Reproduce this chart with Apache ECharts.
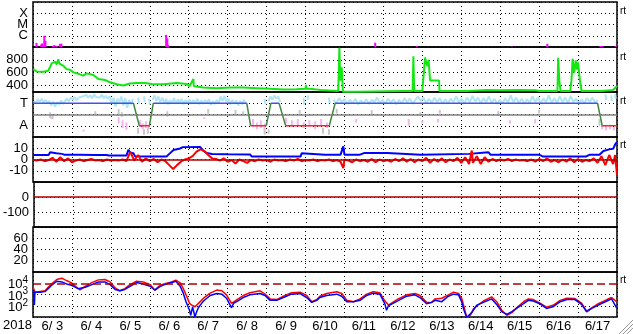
<!DOCTYPE html>
<html><head><meta charset="utf-8">
<script src="https://cdn.jsdelivr.net/npm/echarts@6/dist/echarts.min.js"></script>
<style>html,body{margin:0;padding:0;background:#fff;overflow:hidden}#c{width:633px;height:334px}</style>
</head><body><div id="c"></div>
<script>
// ---------- data ----------
const dayLabels = ['6/ 3','6/ 4','6/ 5','6/ 6','6/ 7','6/ 8','6/ 9','6/10','6/11','6/12','6/13','6/14','6/15','6/16','6/17'];
const yearLabel = '2018';
// X-ray flux (W/m^2) [day, flux]
const xrayFlux = [[0.09,2.3e-7],[0.21,1.7e-7],[0.24,2.1e-7],[0.29,1.0e-6],[0.32,3.4e-7],[0.51,1.3e-7],[0.55,1.5e-7],[0.61,1.2e-7],[0.69,1.9e-7],[0.73,2.0e-7],[3.42,1.2e-6],[3.45,5.9e-7],[3.47,1.5e-7],[8.79,2.4e-7],[9.86,1.2e-7],[12.30,1.1e-7],[13.21,1.9e-7],[14.57,1.2e-7],[14.60,1.2e-7],[14.63,1.2e-7],[14.97,1.2e-7]];
const xrayLevels = {1:'C',2:'M',3:'X'};
// solar wind speed [day, km/s]
const speed = [[0.01,656],[0.09,620],[0.27,615],[0.39,630],[0.44,690],[0.48,749],[0.52,720],[0.57,769],[0.61,730],[0.65,810],[0.68,740],[0.71,759],[0.78,708],[0.86,656],[0.95,646],[1.04,605],[1.16,585],[1.29,554],[1.38,590],[1.42,605],[1.55,564],[1.68,502],[1.85,487],[1.98,451],[2.15,420],[2.32,400],[2.49,431],[2.66,441],[2.88,441],[3.05,426],[3.35,420],[3.69,441],[3.95,426],[4.02,390],[4.12,502],[4.13,390],[4.38,369],[4.72,359],[5.06,369],[5.40,369],[5.75,359],[6.09,349],[6.43,338],[6.77,343],[7.00,349],[7.01,410],[7.02,349],[7.12,349],[7.37,333],[7.61,323],[7.84,316],[7.87,987],[7.89,477],[7.93,685],[7.96,305],[8.30,305],[8.35,316],[9.50,316],[9.75,316],[9.77,856],[9.79,316],[10.00,316],[10.07,836],[10.10,760],[10.13,700],[10.16,800],[10.20,477],[10.43,477],[10.44,316],[11.15,316],[11.20,332],[11.66,332],[11.70,322],[12.00,326],[12.50,332],[12.90,328],[13.00,316],[13.47,316],[13.49,831],[13.52,467],[13.55,316],[13.80,316],[13.83,480],[13.86,815],[13.90,600],[13.94,790],[13.97,650],[14.00,760],[14.05,467],[14.09,316],[14.60,316],[14.64,332],[14.90,332],[14.95,363],[15.00,394]];
const speedTicks = [400,600,800];
// T/A panel: level 3 = T, level 1 = A
const taLevels = {1:'A',3:'T'};
const taCyanSegs = [
 [[0.02,3.2],[0.07,3.0],[0.12,3.35],[0.17,3.1],[0.22,3.4],[0.27,3.05],[0.32,3.3],[0.37,3.0],[0.42,3.2],[0.47,2.8],[0.52,3.15],[0.57,2.7],[0.62,3.1],[0.67,2.9],[0.72,3.25],[0.77,2.95],[0.82,3.2],[0.87,3.4],[0.92,3.2],[0.97,3.5],[1.02,3.3],[1.07,3.55],[1.12,3.25],[1.17,3.5],[1.22,3.35],[1.27,3.6],[1.32,3.45],[1.37,3.75],[1.42,3.5],[1.47,3.7],[1.52,3.45],[1.57,3.8],[1.62,3.55],[1.67,3.7],[1.72,3.5],[1.77,3.75],[1.82,3.45],[1.87,3.65],[1.92,3.4],[1.97,3.6],[2.02,3.0],[2.07,3.5],[2.12,2.7],[2.17,3.4],[2.22,3.1],[2.27,3.6],[2.32,2.8],[2.37,3.45],[2.42,2.6],[2.47,3.3],[2.52,2.9],[2.57,3.4]],
 [[2.70,3.5],[2.72,3.0]],[[2.85,3.6],[2.87,3.1]],[[2.98,3.4],[3.00,2.9]],
 [[3.07,3.3],[3.12,3.7],[3.17,3.2],[3.22,3.6],[3.27,3.1],[3.32,3.5],[3.37,3.0],[3.42,3.4],[3.47,2.9],[3.52,3.3],[3.57,3.0],[3.62,3.45],[3.67,2.95],[3.72,3.35],[3.77,3.05],[3.82,3.4],[3.87,2.9],[3.92,3.3],[3.97,3.0],[4.02,3.35],[4.07,2.95],[4.12,3.3],[4.17,3.0],[4.22,3.4],[4.27,2.9],[4.32,3.25],[4.37,2.95],[4.42,3.3],[4.47,3.0],[4.52,3.35],[4.57,2.85],[4.62,3.2],[4.67,2.95],[4.72,3.3],[4.77,3.0],[4.82,3.6],[4.87,3.2],[4.92,3.65],[4.97,3.1],[5.02,3.4],[5.07,2.9],[5.12,3.3],[5.17,2.95],[5.22,3.25],[5.27,2.8],[5.32,3.2],[5.37,2.9],[5.42,3.3],[5.47,3.0]],
 [[5.95,3.4],[5.97,2.9]],
 [[6.05,3.2],[6.10,3.6],[6.15,3.3],[6.20,3.7],[6.25,3.4],[6.30,3.6],[6.35,3.1]],
 [[6.95,3.5],[6.97,2.9]],[[7.05,3.3],[7.07,3.7]],[[7.60,3.5],[7.62,3.0]],
 [[7.72,3.3],[7.79,3.0],[7.86,3.45],[7.93,3.1],[8.00,3.35],[8.07,2.95],[8.14,3.3],[8.21,3.0],[8.28,3.4],[8.35,2.9],[8.42,3.25],[8.49,3.0],[8.56,3.35],[8.63,2.95],[8.70,3.3],[8.77,3.1],[8.84,3.5],[8.91,3.0],[8.98,3.3],[9.05,2.95],[9.12,3.4],[9.19,3.05],[9.26,3.35],[9.33,2.9],[9.40,3.3],[9.47,3.0],[9.54,3.45],[9.61,3.1],[9.68,3.4],[9.75,2.95],[9.82,3.3],[9.89,3.6],[9.96,3.2],[10.03,3.5],[10.10,3.0],[10.17,3.4],[10.24,3.05],[10.31,3.5],[10.38,3.1],[10.45,3.45],[10.52,2.95],[10.59,3.35],[10.66,3.0],[10.73,3.4],[10.80,3.1],[10.87,3.6],[10.94,3.05],[11.01,3.4],[11.08,3.0],[11.15,3.5],[11.22,3.1],[11.29,3.65],[11.36,3.15],[11.43,3.5],[11.50,3.0],[11.57,3.45],[11.64,3.1],[11.71,3.6],[11.78,3.0],[11.85,3.4],[11.92,2.95],[11.99,3.3],[12.06,3.0],[12.13,3.45],[12.20,3.05],[12.27,3.7],[12.34,3.1],[12.41,3.5],[12.48,3.0],[12.55,3.4],[12.62,2.95],[12.69,3.35],[12.76,3.05],[12.83,3.6],[12.90,3.1],[12.97,3.5],[13.04,3.0],[13.11,3.4],[13.18,3.1],[13.25,3.7],[13.32,3.0],[13.39,3.45],[13.46,3.05],[13.53,3.6],[13.60,3.1],[13.67,3.5],[13.74,3.0],[13.81,3.65],[13.88,3.1],[13.95,3.4],[14.02,2.95],[14.09,3.35],[14.16,3.0],[14.23,3.45],[14.30,3.1],[14.37,3.5],[14.44,3.0],[14.50,3.3]],
 [[14.70,3.8],[14.72,3.3]],[[14.85,3.7],[14.87,3.2]],[[14.95,3.8],[14.97,3.4]]
];
// vertical strokes [day, top, bottom]
const taPinkStrokes = [[0.47,1.75,1.6],[1.30,0.65,0.5],[2.20,1.75,1.2],[2.30,1.5,0.8],[2.40,1.3,0.65],[2.75,1.5,0.9],[2.82,1.2,0.7],[2.90,1.4,0.8],[2.97,1.0,0.7],[4.40,1.75,1.6],[5.65,1.6,0.9],[5.75,1.3,0.7],[5.85,1.5,0.8],[5.95,1.2,0.6],[6.50,1.7,1.2],[6.65,1.5,0.9],[6.80,1.6,1.0],[6.95,1.3,0.8],[7.10,1.5,0.9],[7.25,1.4,0.7],[7.40,1.6,1.0],[7.55,1.3,0.8],[8.30,1.6,1.3],[9.65,1.6,1.0],[10.00,1.5,1.2],[10.40,1.6,1.3],[12.25,1.5,1.2],[12.90,1.6,1.2],[14.62,1.1,0.7],[14.72,1.0,0.6],[14.82,1.1,0.7],[14.92,0.9,0.6]];
const taGreyStrokes = [[0.44,2.2,1.7],[0.50,2.0,1.6],[1.60,2.3,2.0],[2.20,2.5,2.0],[2.28,2.2,1.8],[2.70,0.8,0.3],[2.85,0.7,0.2],[2.95,0.8,0.3],[3.45,2.3,1.8],[4.50,2.5,2.1],[5.20,2.4,2.0],[5.40,2.3,2.0],[5.95,0.8,0.2],[6.05,0.7,0.3],[6.85,2.4,2.0],[7.45,0.8,0.3],[7.60,0.7,0.2],[7.80,2.5,2.1],[8.70,2.4,2.0],[9.95,2.2,1.9],[10.45,2.4,2.1],[11.95,2.3,1.9],[13.00,2.4,2.1],[14.55,1.6,1.0]];
const taStatus = [[0,3],[2.58,3],[2.73,1],[2.99,1],[3.09,3],[5.49,3],[5.59,1],[5.99,1],[6.11,3],[6.32,3],[6.49,1],[7.61,1],[7.76,3],[14.50,3],[14.62,1],[15,1]];
const taMidLevel = 2;
// IMF Bt (blue) and Bz (red), nT
const bt = [[0.00,4],[0.40,4],[0.44,6.4],[0.60,5.5],[0.74,5],[0.80,4.3],[1.20,4.2],[1.60,4.0],[1.89,4],[1.95,3.5],[2.40,3.5],[2.45,8.7],[2.50,6],[2.58,5.5],[2.62,2.8],[3.00,2.6],[3.43,2.6],[3.50,5],[3.61,8.5],[3.78,9.8],[3.85,11],[4.29,11.1],[4.33,10.3],[4.37,8],[4.46,5.7],[4.60,4.8],[5.00,4.6],[5.58,4.4],[5.62,2.6],[6.50,2.6],[6.87,2.6],[6.90,5.5],[6.95,4.3],[7.50,4.3],[7.90,4.3],[7.97,11.7],[8.00,4.3],[8.40,4.3],[8.50,5.7],[9.10,5.7],[9.15,4.3],[9.96,4.3],[10.00,5],[11.20,5],[11.25,6.4],[11.70,6.4],[11.75,4.3],[13.00,4.3],[13.10,2.6],[14.20,2.6],[14.30,4.3],[14.55,4.3],[14.65,7.6],[14.80,9],[14.90,9.5],[14.97,14.6],[15.00,15]];
const bz = [[0.0,-0.5],[0.1,-1],[0.2,0],[0.3,-1.5],[0.4,-0.5],[0.5,1.5],[0.6,-2],[0.7,2],[0.8,-1.5],[0.9,1],[1.0,-2.5],[1.1,-1],[1.2,0],[1.3,-1.5],[1.4,-0.5],[1.5,0.5],[1.6,-1],[1.7,-0.5],[1.8,-1.5],[1.9,0],[2.0,-1],[2.1,-0.5],[2.2,-1],[2.3,0],[2.4,-1.5],[2.5,7],[2.6,-1],[2.7,4],[2.8,-2],[2.9,1],[3.0,-1.5],[3.1,0.5],[3.2,-2.5],[3.3,0],[3.4,-1.5],[3.5,-5],[3.6,-8.5],[3.7,-5],[3.8,-2],[3.9,0],[4.0,1],[4.1,3],[4.2,7],[4.3,9],[4.4,7.5],[4.5,4],[4.6,1],[4.7,0.5],[4.8,-1],[4.9,1],[5.0,-2],[5.1,-0.5],[5.2,-3.5],[5.3,0],[5.4,-1.5],[5.5,-3],[5.6,-0.5],[5.7,-1.5],[5.8,0],[5.9,-1],[6.0,-0.5],[6.1,-2],[6.2,0],[6.3,-1],[6.4,-0.5],[6.5,-1.5],[6.6,0],[6.7,-1],[6.8,0.5],[6.9,-1.5],[7.0,-0.5],[7.1,-1],[7.2,0],[7.3,-1.5],[7.4,-0.5],[7.5,-1],[7.6,0],[7.7,-1.5],[7.8,-0.5],[7.9,-2],[7.97,-7.6],[8.0,0],[8.1,-1],[8.2,-2.5],[8.3,0],[8.4,-1.5],[8.5,-0.5],[8.6,-2],[8.7,0.5],[8.8,-2.5],[8.9,0],[9.0,-1.5],[9.1,-0.5],[9.2,-2],[9.3,0.5],[9.4,-1.5],[9.5,1],[9.6,-2],[9.7,0.5],[9.8,-2.5],[9.9,0],[10.0,-1.5],[10.1,1.5],[10.2,-3],[10.3,0.5],[10.4,-2],[10.5,1],[10.6,-2.5],[10.7,0],[10.8,-1.5],[10.9,1.5],[11.0,-3],[11.1,2],[11.2,-4],[11.27,8],[11.3,-3],[11.4,3],[11.5,-4],[11.6,2],[11.7,-2],[11.8,0.5],[11.9,-1.5],[12.0,0],[12.1,-1],[12.2,0.5],[12.3,-1.5],[12.4,0],[12.5,-1],[12.6,-0.5],[12.7,-1.5],[12.8,0],[12.9,-2],[13.0,0.5],[13.1,-1.5],[13.2,1],[13.3,-2],[13.4,-0.5],[13.5,-2.5],[13.6,0],[13.7,-2],[13.8,1],[13.9,-2.5],[14.0,0.5],[14.1,-2],[14.2,-0.5],[14.3,-1.5],[14.4,1],[14.5,-3],[14.6,3],[14.7,-5],[14.8,4],[14.9,-4],[14.95,4],[15.0,-13.5]];
const bzTicks = [-10,0,10];
const dstTicks = [0,-100];
const panel6Ticks = [20,40,60];
// electron flux, log10 values [day, exponent]
const fluxRedExp = [[0.01,3.58],[0.05,3.2],[0.18,3.27],[0.31,3.33],[0.39,3.64],[0.48,3.94],[0.61,4.33],[0.74,4.45],[0.86,4.24],[0.99,4.03],[1.12,3.64],[1.21,3.42],[1.34,3.73],[1.51,4.06],[1.68,4.30],[1.85,4.33],[1.98,4.12],[2.11,3.58],[2.23,3.33],[2.36,3.52],[2.49,3.88],[2.66,4.18],[2.83,4.12],[3.01,3.88],[3.13,3.39],[3.26,3.82],[3.43,4.0],[3.56,4.12],[3.67,4.27],[3.78,4.03],[3.86,3.52],[3.95,2.82],[4.02,2.21],[4.08,2.06],[4.16,1.91],[4.25,2.21],[4.38,2.67],[4.55,3.12],[4.72,3.39],[4.85,3.33],[4.97,2.97],[5.10,2.21],[5.23,2.52],[5.40,2.91],[5.57,3.15],[5.83,3.33],[5.96,3.03],[6.09,2.61],[6.26,2.55],[6.43,2.85],[6.64,3.15],[6.86,3.21],[7.03,2.91],[7.16,2.36],[7.29,2.55],[7.37,2.85],[7.54,3.09],[7.80,3.24],[7.93,3.09],[8.06,2.48],[8.23,2.36],[8.40,2.61],[8.57,3.03],[8.74,3.24],[8.91,3.15],[9.04,2.42],[9.13,2.06],[9.21,2.24],[9.38,2.61],[9.60,2.97],[9.81,3.09],[9.94,2.91],[10.11,2.30],[10.24,2.30],[10.33,2.61],[10.50,2.67],[10.67,2.97],[10.80,3.21],[10.93,3.09],[11.01,2.67],[11.07,1.91],[11.14,0.97],[11.23,1.15],[11.31,1.70],[11.40,2.0],[11.57,2.42],[11.78,2.79],[11.91,2.36],[12.04,1.6],[12.17,1.15],[12.30,1.39],[12.42,1.82],[12.60,2.36],[12.72,2.61],[12.85,2.55],[13.02,2.24],[13.19,1.88],[13.37,2.06],[13.54,2.48],[13.71,2.67],[13.92,2.64],[14.09,2.24],[14.22,1.52],[14.35,1.82],[14.52,2.18],[14.74,2.55],[14.86,2.73],[14.99,2.36]];
const fluxBlueExp = [[0.01,3.42],[0.035,2.06],[0.05,3.21],[0.18,3.21],[0.31,3.27],[0.39,3.52],[0.48,3.82],[0.61,4.18],[0.74,4.12],[0.86,3.94],[0.99,3.82],[1.16,3.52],[1.34,3.64],[1.51,3.88],[1.68,4.12],[1.85,4.12],[1.98,3.88],[2.11,3.45],[2.23,3.33],[2.36,3.45],[2.49,3.73],[2.66,4.06],[2.83,3.94],[3.01,3.73],[3.13,3.39],[3.26,3.70],[3.43,3.94],[3.56,4.06],[3.67,4.18],[3.78,3.73],[3.86,3.12],[3.93,2.36],[4.02,1.6],[4.05,1.15],[4.10,1.9],[4.16,1.0],[4.20,1.45],[4.25,1.85],[4.33,2.21],[4.38,2.42],[4.55,2.91],[4.72,3.09],[4.85,3.03],[4.97,2.67],[5.10,1.82],[5.15,2.21],[5.23,2.36],[5.40,2.73],[5.57,2.97],[5.83,3.09],[5.96,2.91],[6.09,2.48],[6.26,2.48],[6.43,2.73],[6.64,3.03],[6.86,3.09],[7.03,2.73],[7.16,2.30],[7.29,2.48],[7.37,2.73],[7.54,2.91],[7.80,3.03],[7.93,2.85],[8.06,2.36],[8.23,2.36],[8.40,2.48],[8.57,2.91],[8.74,3.12],[8.91,3.03],[9.04,2.15],[9.08,1.6],[9.13,2.0],[9.21,2.15],[9.38,2.45],[9.60,2.85],[9.81,2.97],[9.94,2.73],[10.11,2.18],[10.24,2.30],[10.33,2.48],[10.50,2.36],[10.67,2.85],[10.80,3.03],[10.93,2.97],[11.01,2.36],[11.07,1.6],[11.14,0.97],[11.27,1.39],[11.31,1.6],[11.40,2.06],[11.57,2.30],[11.78,2.61],[11.91,2.12],[12.04,1.48],[12.17,1.24],[12.30,1.48],[12.42,1.76],[12.60,2.18],[12.72,2.48],[12.85,2.42],[13.02,2.18],[13.19,1.76],[13.37,1.94],[13.54,2.36],[13.71,2.55],[13.92,2.55],[14.09,2.12],[14.22,1.45],[14.35,1.76],[14.52,2.06],[14.74,2.42],[14.86,2.61],[14.99,1.82]];
const fluxTicks = [2,3,4];
const fluxThresholdExp = 4;
const rtLabel = 'rt';

// ---------- layout ----------
const L = 33, R = 16, TOP = 2, H = 45, N = 7;
const FONT = "'Liberation Sans Narrow','Liberation Sans',Arial,sans-serif";
const DOT = [1,3];
const grids = [], xAxes = [], yAxes = [], series = [];
for (let i = 0; i < N; i++) {
  grids.push({left: L, right: R, top: TOP + H * i, height: H, show: true, borderColor: '#000', borderWidth: 1.5, backgroundColor: 'transparent'});
  xAxes.push({type: 'value', gridIndex: i, min: 0, max: 15, interval: 1,
    axisLine: {show: false}, axisTick: {show: false}, axisLabel: {show: false},
    splitLine: {show: true, lineStyle: {color: '#000', type: DOT, width: 1}}});
}
// category axis for the day labels (centred in each day)
xAxes.push({type: 'category', gridIndex: 6, data: dayLabels, boundaryGap: true, position: 'bottom',
  axisLine: {show: false}, axisTick: {show: false}, splitLine: {show: false},
  axisLabel: {interval: 0, color: '#000', fontFamily: FONT, fontSize: 13, margin: 3}});

function yAx(i, min, max, interval, fmt, lineColors) {
  return {type: 'value', gridIndex: i, min: min, max: max, interval: interval,
    axisLine: {show: false}, axisTick: {show: false},
    axisLabel: {color: '#000', fontFamily: FONT, fontSize: 13, margin: 5, formatter: fmt, showMinLabel: true, showMaxLabel: true},
    splitLine: {show: true, lineStyle: {color: lineColors || '#000', type: DOT, width: 1}}};
}
const T = 'rgba(0,0,0,0)';
yAxes.push(yAx(0, 0, 4, 1, v => xrayLevels[v] || ''));
yAxes.push(yAx(1, 300, 1000, 100, v => speedTicks.includes(v) ? String(v) : '', [T, '#000']));
yAxes.push(yAx(2, 0, 4, 1, v => taLevels[v] || ''));
yAxes.push(yAx(3, -20, 20, 10, v => bzTicks.includes(v) ? String(v) : ''));
yAxes.push(yAx(4, -200, 100, 100, v => dstTicks.includes(v) ? String(v) : ''));
yAxes.push(yAx(5, 0, 80, 20, v => panel6Ticks.includes(v) ? String(v) : ''));
const fy = yAx(6, 1, 5, 1, v => fluxTicks.includes(v) ? '{b|10}{s|' + v + '}' : '', ['#000', '#000', '#000', T, '#000']);
fy.axisLabel.rich = {b: {fontFamily: FONT, fontSize: 13, lineHeight: 16, verticalAlign: 'bottom'}, s: {fontFamily: FONT, fontSize: 10, lineHeight: 16, verticalAlign: 'top', padding: [0, 0, 6, 0]}};
yAxes.push(fy);

const common = {type: 'line', symbol: 'none', showSymbol: false, animation: false, silent: true, connectNulls: false};
function strokes(list) { const out = []; list.forEach(s => { out.push([s[0], s[1]], [s[0], s[2]], [s[0], '-']); }); return out; }
function joinSegs(segs) { const out = []; segs.forEach(s => { s.forEach(p => out.push(p)); out.push([s[s.length - 1][0], '-']); }); return out; }

// panel 0: X-ray bars
series.push({type: 'bar', xAxisIndex: 0, yAxisIndex: 0, barWidth: 2, silent: true, animation: false,
  itemStyle: {color: '#ff00ff'}, data: xrayFlux.map(p => [p[0], Math.log10(p[1]) + 7])});
// panel 1: speed
series.push(Object.assign({}, common, {xAxisIndex: 1, yAxisIndex: 1, data: speed, lineStyle: {color: '#14e614', width: 2}}));
// panel 2: T/A
series.push(Object.assign({}, common, {xAxisIndex: 2, yAxisIndex: 2, data: strokes(taGreyStrokes), lineStyle: {color: '#c8c8c8', width: 2}}));
series.push(Object.assign({}, common, {xAxisIndex: 2, yAxisIndex: 2, data: strokes(taPinkStrokes), lineStyle: {color: '#f5b4f0', width: 2}}));
series.push(Object.assign({}, common, {xAxisIndex: 2, yAxisIndex: 2, data: joinSegs(taCyanSegs), lineStyle: {color: '#aee6f6', width: 2},
  markLine: {silent: true, symbol: 'none', label: {show: false}, animation: false, lineStyle: {color: '#808080', type: 'solid', width: 1.5}, data: [{yAxis: taMidLevel}]}}));
const stB = [], stG = [], stR = [];
for (let i = 0; i < taStatus.length - 1; i++) {
  const a = taStatus[i], b = taStatus[i + 1];
  const tgt = (a[1] === 3 && b[1] === 3) ? stB : (a[1] === 1 && b[1] === 1) ? stR : stG;
  tgt.push(a, b, [b[0], '-']);
}
series.push(Object.assign({}, common, {xAxisIndex: 2, yAxisIndex: 2, data: stB, lineStyle: {color: '#4055e6', width: 1.5}}));
series.push(Object.assign({}, common, {xAxisIndex: 2, yAxisIndex: 2, data: stG, lineStyle: {color: '#3f8a3f', width: 1.5}}));
series.push(Object.assign({}, common, {xAxisIndex: 2, yAxisIndex: 2, data: stR, lineStyle: {color: '#e83030', width: 1.5}}));
// panel 3: Bt / Bz
series.push(Object.assign({}, common, {xAxisIndex: 3, yAxisIndex: 3, data: bt, lineStyle: {color: '#0000ff', width: 2}}));
series.push(Object.assign({}, common, {xAxisIndex: 3, yAxisIndex: 3, data: bz, lineStyle: {color: '#ff0000', width: 2},
  markLine: {silent: true, symbol: 'none', label: {show: false}, animation: false, lineStyle: {color: '#b00000', type: 'solid', width: 1.5}, data: [{yAxis: 0}]}}));
// panel 4: Dst zero line
series.push(Object.assign({}, common, {xAxisIndex: 4, yAxisIndex: 4, data: [],
  markLine: {silent: true, symbol: 'none', label: {show: false}, animation: false, lineStyle: {color: '#b00000', type: 'solid', width: 1.5}, data: [{yAxis: 0}]}}));
// panel 6: electron flux
series.push(Object.assign({}, common, {xAxisIndex: 6, yAxisIndex: 6, data: fluxRedExp, lineStyle: {color: '#ff0000', width: 1.5},
  markLine: {silent: true, symbol: 'none', label: {show: false}, animation: false, lineStyle: {color: '#b00000', type: [8, 4], width: 1.5}, data: [{yAxis: fluxThresholdExp}]}}));
series.push(Object.assign({}, common, {xAxisIndex: 6, yAxisIndex: 6, data: fluxBlueExp, lineStyle: {color: '#0000ff', width: 1.5}}));

const chart = echarts.init(document.getElementById('c'), null, {renderer: 'canvas'});
const rtYs = [12, 58, 102, 146, 281];
const graphics = rtYs.map(y => ({type: 'text', left: 620, top: y - 6, silent: true, style: {text: rtLabel, font: '10px ' + FONT, fill: '#000'}}));
graphics.push({type: 'text', left: 3, top: 319, silent: true, style: {text: yearLabel, font: '13px ' + FONT, fill: '#000'}});
[0, 4, 8].forEach(k => graphics.push({type: 'line', silent: true, shape: {x1: 633, y1: 320 + k, x2: 619 + k, y2: 334}, style: {stroke: '#9a9a9a', lineWidth: 1}}));
[1, 5, 9].forEach(k => graphics.push({type: 'line', silent: true, shape: {x1: 633, y1: 320 + k, x2: 619 + k, y2: 334}, style: {stroke: '#ffffff', lineWidth: 1}}));
chart.setOption({animation: false, backgroundColor: '#fff', grid: grids, xAxis: xAxes, yAxis: yAxes, series: series, graphic: graphics});
</script></body></html>
